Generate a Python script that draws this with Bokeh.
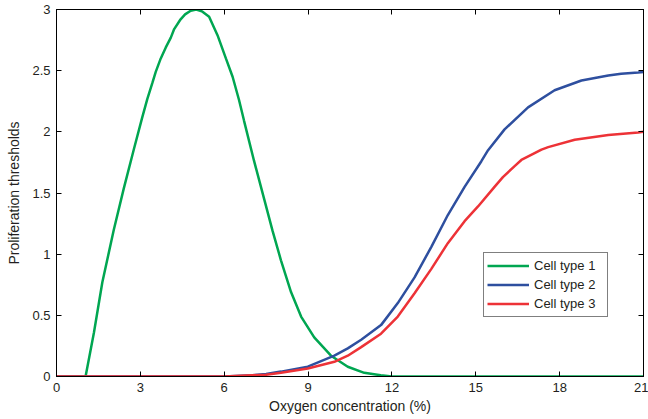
from bokeh.plotting import figure
from bokeh.models import Range1d, LinearAxis, FixedTicker, Legend, LegendItem
from bokeh.embed import file_html
from bokeh.resources import INLINE

# ---- data ----
green_x = [0, 1.0, 1.04, 1.34, 1.64, 2.05, 2.41, 2.77, 3.07, 3.25, 3.43, 3.55, 3.73, 3.91,
           4.09, 4.21, 4.44, 4.6, 4.8, 5.0, 5.2, 5.46, 5.76, 6.06, 6.30, 6.53, 6.71, 7.07,
           7.43, 7.73, 8.03, 8.39, 8.75, 9.22, 9.82, 10.42, 11.01, 11.6, 12.0, 21.0]
green_y = [0, 0, 0, 0.36, 0.77, 1.20, 1.54, 1.86, 2.12, 2.27, 2.40, 2.49, 2.60, 2.69,
           2.77, 2.84, 2.92, 2.96, 2.99, 3.0, 2.985, 2.94, 2.79, 2.60, 2.45, 2.26, 2.09, 1.76,
           1.45, 1.19, 0.95, 0.69, 0.49, 0.32, 0.17, 0.08, 0.03, 0.01, 0, 0]

blue_x = [0, 6.0, 7.0, 7.5, 8.03, 8.99, 9.94, 10.42, 10.90, 11.61, 12.21, 12.81, 13.41, 14.0,
          14.6, 15.2, 15.44, 16.03, 16.87, 17.82, 18.78, 19.74, 20.2, 20.81, 21.0]
blue_y = [0, 0, 0.01, 0.02, 0.04, 0.08, 0.17, 0.23, 0.30, 0.42, 0.60, 0.81, 1.06, 1.32,
          1.55, 1.76, 1.85, 2.02, 2.20, 2.34, 2.42, 2.46, 2.475, 2.485, 2.49]

red_x = [0, 6.0, 7.0, 7.5, 8.03, 8.99, 9.94, 10.42, 10.90, 11.61, 12.21, 12.81, 13.41, 14.0,
         14.6, 15.08, 15.67, 15.97, 16.39, 16.63, 17.35, 17.59, 18.54, 19.74, 20.81, 21.0]
red_y = [0, 0, 0.01, 0.015, 0.03, 0.065, 0.12, 0.17, 0.24, 0.35, 0.49, 0.68, 0.88, 1.09,
         1.27, 1.39, 1.55, 1.63, 1.72, 1.77, 1.855, 1.875, 1.935, 1.975, 1.995, 2.0]

series_names = ["Cell type 1", "Cell type 2", "Cell type 3"]
x_ticks = [0, 3, 6, 9, 12, 15, 18, 21]
y_ticks = [0, 0.5, 1, 1.5, 2, 2.5, 3]
y_tick_labels = ["0", "0.5", "1", "1.5", "2", "2.5", "3"]
x_label = "Oxygen concentration (%)"
y_label = "Proliferation thresholds"

FONT = "Liberation Sans"
TXT = "#231f20"

p = figure(width=648, height=419, output_backend="svg", toolbar_location=None,
           x_range=Range1d(0, 21), y_range=Range1d(0, 3),
           min_border_left=56, min_border_right=5, min_border_top=9, min_border_bottom=43)
p.background_fill_color = "white"
p.border_fill_color = "white"
p.outline_line_color = "black"
p.outline_line_width = 1
p.xgrid.visible = False
p.ygrid.visible = False

def style_axis(ax, ticks):
    ax.ticker = FixedTicker(ticks=ticks)
    ax.major_tick_in = 5
    ax.major_tick_out = 0
    ax.minor_tick_line_color = None
    ax.major_tick_line_color = "black"
    ax.axis_line_color = "black"
    ax.major_label_text_font = FONT
    ax.major_label_text_color = TXT
    ax.major_label_text_font_size = "13px"
    ax.major_label_standoff = 6

xa = p.xaxis[0]
ya = p.yaxis[0]
style_axis(xa, x_ticks)
style_axis(ya, y_ticks)
ya.major_label_overrides = {t: s for t, s in zip(y_ticks, y_tick_labels)}
xa.axis_label = x_label
ya.axis_label = y_label
for ax in (xa, ya):
    ax.axis_label_text_font = FONT
    ax.axis_label_text_font_size = "14px"
    ax.axis_label_text_font_style = "normal"
    ax.axis_label_text_color = TXT
xa.axis_label_standoff = 3
ya.axis_label_standoff = 7

# mirrored tick marks on the top and right edges (minor ticks only -> no labels)
def mirror_axis(ax, ticks):
    ax.ticker = FixedTicker(ticks=[], minor_ticks=ticks)
    ax.major_tick_line_color = None
    ax.minor_tick_in = 5
    ax.minor_tick_out = 0
    ax.minor_tick_line_color = "black"
    ax.axis_line_color = "black"
    ax.major_label_standoff = 0

top = LinearAxis()
mirror_axis(top, x_ticks)
p.add_layout(top, "above")
right = LinearAxis()
mirror_axis(right, y_ticks)
p.add_layout(right, "right")

g = p.line(green_x, green_y, line_color="#00a651", line_width=2.5)
b = p.line(blue_x, blue_y, line_color="#2e4f9f", line_width=2.5)
r = p.line(red_x, red_y, line_color="#ed3237", line_width=2.5)

legend = Legend(items=[LegendItem(label=series_names[0], renderers=[g]),
                       LegendItem(label=series_names[1], renderers=[b]),
                       LegendItem(label=series_names[2], renderers=[r])],
                location=(427, 59))
legend.label_text_font = FONT
legend.label_text_font_size = "13px"
legend.label_text_color = TXT
legend.border_line_color = "black"
legend.border_line_width = 1
legend.background_fill_color = "white"
legend.background_fill_alpha = 1
legend.padding = 3
legend.spacing = 0
legend.margin = 0
legend.glyph_width = 42
legend.glyph_height = 19
legend.label_height = 19
legend.label_width = 70
legend.label_standoff = 5
p.add_layout(legend, "center")

open("out.html", "w").write(file_html(p, INLINE))
